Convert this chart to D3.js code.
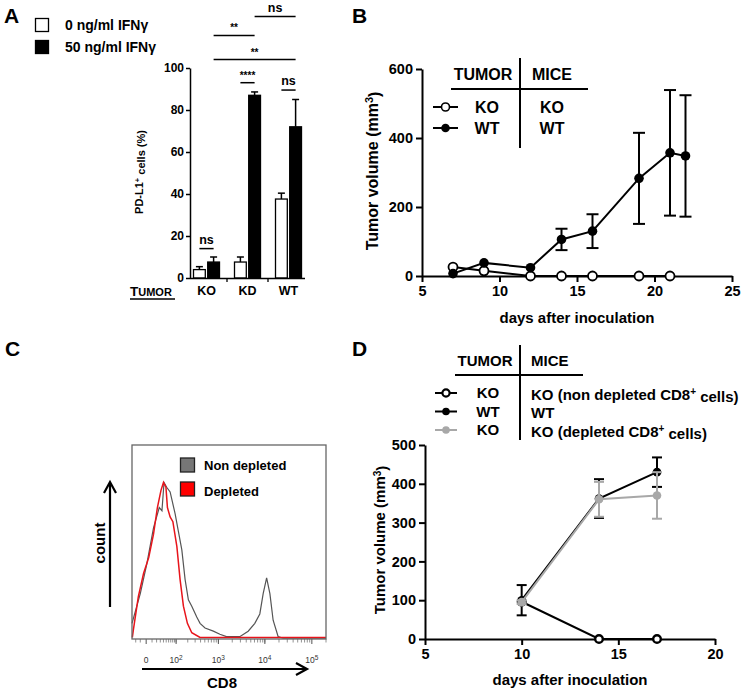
<!DOCTYPE html>
<html>
<head>
<meta charset="utf-8">
<title>PD-L1 tumor figure</title>
<script src="https://d3js.org/d3.v7.min.js"></script>
<style>
  body { margin: 0; background: #fff; }
  svg { font-family: "Liberation Sans", Arial, Helvetica, sans-serif; font-weight: bold; }
</style>
</head>
<body>
<svg width="745" height="693"></svg>
<script>
// ---------- data ----------
// A: PD-L1+ cells (%)
var groupsA = ["KO", "KD", "WT"];
var seriesA = ["0 ng/ml IFNγ", "50 ng/ml IFNγ"];
var meanA0 = [4, 7.6, 37.6];
var errA0 = [1.4, 2.4, 2.8];
var meanA50 = [7.6, 87, 72];
var errA50 = [2.4, 1.6, 13];
var ticksA = [0, 20, 40, 60, 80, 100];
// significance bars: [group index, series index] -> [group index, series index]
var sigFrom = [[0, 0], [1, 0], [2, 0], [0, 1], [0, 1], [1, 1]];
var sigTo = [[0, 1], [1, 1], [2, 1], [1, 1], [2, 1], [2, 1]];
var sigY = [14, 93, 89.5, 115.5, 104, 124.5];
var sigLabel = ["ns", "****", "ns", "**", "**", "ns"];

// B: tumor growth, KO vs WT
var daysB_KO = [7, 9, 12, 14, 16, 19, 21];
var volB_KO = [26, 15, 0, 0, 0, 0, 0];
var daysB_WT = [7, 9, 12, 14, 16, 19, 21, 22];
var volB_WT = [7, 38, 24, 106, 130, 283, 357, 348];
var errB_WT = [0, 0, 0, 31, 49, 132, 182, 176];
var ticksBx = [5, 10, 15, 20, 25];
var ticksBy = [0, 200, 400, 600];

// C: CD8 histogram (intensity, % of max count)
var cd8Grey = [[-30, 10], [-10, 29], [1, 48], [13, 71], [27, 84], [35, 82], [42, 100], [52, 97], [67, 94],
  [94, 80], [115, 69], [142, 57], [172, 38], [207, 25], [250, 21], [327, 14], [390, 10], [506, 7],
  [774, 5], [1080, 3], [1500, 1.5], [2900, 1.5], [4400, 5], [6100, 10], [7800, 16], [9200, 29],
  [10900, 39], [12800, 29], [15000, 12], [19200, 1.5], [24500, 0.5], [200000, 0.5]];
var cd8Red = [[-29, 1], [-26, 6], [-14, 27], [-4, 42], [4, 52], [13, 67], [22, 84], [32, 95], [40, 100],
  [49, 97], [55, 84], [67, 78], [81, 75], [105, 59], [128, 38], [156, 21], [196, 10], [250, 4],
  [390, 1], [200000, 1]];
var ticksC = [0, 100, 1000, 10000, 100000];
var ticksCexp = ["", "2", "3", "4", "5"];
var legendC = ["Non depleted", "Depleted"];

// D: tumor growth with CD8 depletion
var daysD = [10, 14, 17];
var volD_KO = [96, 0, 0];
var errD_KO = [0, 0, 0];
var volD_WT = [100, 362, 430];
var errD_WT = [39, 50, 38];
var volD_KOdep = [95, 360, 370];
var errD_KOdep = [5, 45, 60];
var ticksDx = [5, 10, 15, 20];
var ticksDy = [0, 100, 200, 300, 400, 500];

var svg = d3.select("svg");
svg.append("rect").attr("width", 745).attr("height", 693).attr("fill", "#fff");

// helper: text with a superscript part
function supText(sel, before, sup, after, supSize) {
  sel.append("tspan").text(before);
  sel.append("tspan").attr("dy", "-0.45em").attr("font-size", supSize).text(sup);
  if (after) sel.append("tspan").attr("dy", "0.45em").text(after);
}

function styleAxis(g, w) {
  g.select(".domain").attr("stroke", "#000").attr("stroke-width", w);
  g.selectAll(".tick line").attr("stroke", "#000").attr("stroke-width", w);
  g.selectAll("text").attr("fill", "#000").attr("font-family", null).attr("font-weight", "bold");
}

// panel letters
[["A", 4, 23], ["B", 352, 23], ["C", 5, 356], ["D", 352, 356]].forEach(function(l) {
  svg.append("text").attr("x", l[1]).attr("y", l[2]).attr("font-size", 21).text(l[0]);
});

// ================= Panel A =================
var yA = d3.scaleLinear().domain([0, 100]).range([278, 68]);
var xA = d3.scaleBand().domain(groupsA).range([186, 309]);
var xA1 = d3.scaleBand().domain([0, 1]).range([-13, 13]).paddingInner(0.17);
function cxA(gi, si) { return xA(groupsA[gi]) + xA.bandwidth() / 2 + xA1(si) + xA1.bandwidth() / 2; }

var gA = svg.append("g");
var barsA = [meanA0, meanA50];
var errsA = [errA0, errA50];
[0, 1].forEach(function(si) {
  groupsA.forEach(function(g, gi) {
    var x0 = xA(g) + xA.bandwidth() / 2 + xA1(si);
    var v = barsA[si][gi], e = errsA[si][gi];
    var cx = x0 + xA1.bandwidth() / 2;
    gA.append("line").attr("x1", cx).attr("x2", cx).attr("y1", yA(v)).attr("y2", yA(v + e))
      .attr("stroke", "#000").attr("stroke-width", 1.5);
    gA.append("line").attr("x1", cx - 3.5).attr("x2", cx + 3.5).attr("y1", yA(v + e)).attr("y2", yA(v + e))
      .attr("stroke", "#000").attr("stroke-width", 1.5);
    gA.append("rect").attr("x", x0).attr("y", yA(v)).attr("width", xA1.bandwidth())
      .attr("height", yA(0) - yA(v))
      .attr("fill", si === 0 ? "#fff" : "#000").attr("stroke", "#000").attr("stroke-width", 1.3);
  });
});

var axA = gA.append("g").attr("transform", "translate(190,0)")
  .call(d3.axisLeft(yA).tickValues(ticksA).tickSize(4).tickSizeOuter(0).tickPadding(2));
styleAxis(axA, 1.5);
axA.selectAll("text").attr("font-size", 12);

// x axis line with category separators
gA.append("line").attr("x1", 190).attr("x2", 305).attr("y1", 278.5).attr("y2", 278.5)
  .attr("stroke", "#000").attr("stroke-width", 1.5);
[1, 2].forEach(function(i) {
  var x = xA(groupsA[i]);
  gA.append("line").attr("x1", x).attr("x2", x).attr("y1", 278).attr("y2", 282)
    .attr("stroke", "#000").attr("stroke-width", 1.3);
});
groupsA.forEach(function(g) {
  gA.append("text").attr("x", xA(g) + xA.bandwidth() / 2).attr("y", 295)
    .attr("text-anchor", "middle").attr("font-size", 12.5).text(g);
});
// small-caps TUMOR label
var tum = gA.append("text").attr("x", 130).attr("y", 296).attr("font-size", 13.5);
tum.append("tspan").text("T");
tum.append("tspan").attr("font-size", 11).text("UMOR");
gA.append("line").attr("x1", 130).attr("x2", 175).attr("y1", 299).attr("y2", 299)
  .attr("stroke", "#000").attr("stroke-width", 1.3);

// y label
var ylA = gA.append("text").attr("transform", "translate(143,172) rotate(-90)")
  .attr("text-anchor", "middle").attr("font-size", 11);
supText(ylA, "PD-L1", "+", " cells (%)", 7.5);

// significance lines
sigLabel.forEach(function(lab, i) {
  var x1 = cxA(sigFrom[i][0], sigFrom[i][1]), x2 = cxA(sigTo[i][0], sigTo[i][1]);
  var y = yA(sigY[i]);
  gA.append("line").attr("x1", x1).attr("x2", x2).attr("y1", y).attr("y2", y)
    .attr("stroke", "#000").attr("stroke-width", 1.5);
  gA.append("text").attr("x", (x1 + x2) / 2).attr("y", lab === "ns" ? y - 5 : y - 4)
    .attr("text-anchor", "middle").attr("font-size", lab === "ns" ? 12.5 : 10).text(lab);
});

// legend A
seriesA.forEach(function(s, i) {
  var y = 18 + i * 22;
  gA.append("rect").attr("x", 35.5).attr("y", y + 0.5).attr("width", 13).attr("height", 13)
    .attr("fill", i === 0 ? "#fff" : "#000").attr("stroke", "#000").attr("stroke-width", 1.3);
  gA.append("text").attr("x", 65).attr("y", y + 12).attr("font-size", 14).text(s);
});

// ================= Panel B =================
var xB = d3.scaleLinear().domain([5, 25]).range([422, 732]);
var yB = d3.scaleLinear().domain([0, 600]).range([276, 69]);
var gB = svg.append("g");
var lineB = d3.line().x(function(d) { return xB(d[0]); }).y(function(d) { return yB(d[1]); });

var axBx = gB.append("g").attr("transform", "translate(0,276)")
  .call(d3.axisBottom(xB).tickValues(ticksBx).tickSize(6).tickSizeOuter(0).tickPadding(4));
styleAxis(axBx, 2);
axBx.selectAll("text").attr("font-size", 14.5);
var axBy = gB.append("g").attr("transform", "translate(422,0)")
  .call(d3.axisLeft(yB).tickValues(ticksBy).tickSize(6).tickSizeOuter(0).tickPadding(3));
styleAxis(axBy, 2);
axBy.selectAll("text").attr("font-size", 14.5);

gB.append("text").attr("x", 577).attr("y", 323).attr("text-anchor", "middle").attr("font-size", 15)
  .text("days after inoculation");
var ylB = gB.append("text").attr("transform", "translate(378,171) rotate(-90)")
  .attr("text-anchor", "middle").attr("font-size", 16);
supText(ylB, "Tumor volume (mm", "3", ")", 11);

var wtB = daysB_WT.map(function(d, i) { return [d, volB_WT[i], errB_WT[i]]; });
var koB = daysB_KO.map(function(d, i) { return [d, volB_KO[i]]; });

gB.append("path").datum(wtB).attr("d", lineB).attr("fill", "none").attr("stroke", "#000").attr("stroke-width", 2);
gB.append("path").datum(koB).attr("d", lineB).attr("fill", "none").attr("stroke", "#000").attr("stroke-width", 2);
wtB.forEach(function(d) {
  if (d[2] > 0) {
    var x = xB(d[0]);
    gB.append("line").attr("x1", x).attr("x2", x).attr("y1", yB(d[1] - d[2])).attr("y2", yB(d[1] + d[2]))
      .attr("stroke", "#000").attr("stroke-width", 2);
    [d[1] - d[2], d[1] + d[2]].forEach(function(v) {
      gB.append("line").attr("x1", x - 6).attr("x2", x + 6).attr("y1", yB(v)).attr("y2", yB(v))
        .attr("stroke", "#000").attr("stroke-width", 2);
    });
  }
});
gB.selectAll("circle.ko").data(koB).enter().append("circle")
  .attr("cx", function(d) { return xB(d[0]); }).attr("cy", function(d) { return yB(d[1]); })
  .attr("r", 4.5).attr("fill", "#fff").attr("stroke", "#000").attr("stroke-width", 1.8);
gB.selectAll("circle.wt").data(wtB).enter().append("circle")
  .attr("cx", function(d) { return xB(d[0]); }).attr("cy", function(d) { return yB(d[1]); })
  .attr("r", 4.8).attr("fill", "#000");

// legend table B
gB.append("text").attr("x", 483).attr("y", 80).attr("text-anchor", "middle").attr("font-size", 16).text("TUMOR");
gB.append("text").attr("x", 552).attr("y", 80).attr("text-anchor", "middle").attr("font-size", 16).text("MICE");
gB.append("line").attr("x1", 451).attr("x2", 588).attr("y1", 89).attr("y2", 89).attr("stroke", "#000").attr("stroke-width", 2);
gB.append("line").attr("x1", 520).attr("x2", 520).attr("y1", 58).attr("y2", 148).attr("stroke", "#000").attr("stroke-width", 2);
[["KO", "KO", true], ["WT", "WT", false]].forEach(function(r, i) {
  var y = 107 + i * 21;
  gB.append("line").attr("x1", 433).attr("x2", 458).attr("y1", y).attr("y2", y).attr("stroke", "#000").attr("stroke-width", 2);
  gB.append("circle").attr("cx", 445.5).attr("cy", y).attr("r", r[2] ? 4 : 4.3)
    .attr("fill", r[2] ? "#fff" : "#000").attr("stroke", "#000").attr("stroke-width", r[2] ? 1.6 : 0);
  gB.append("text").attr("x", 487).attr("y", y + 6).attr("text-anchor", "middle").attr("font-size", 16).text(r[0]);
  gB.append("text").attr("x", 552).attr("y", y + 6).attr("text-anchor", "middle").attr("font-size", 16).text(r[1]);
});

// ================= Panel C =================
var xC = d3.scaleSymlog().constant(30).domain([-30, 200000]).range([132, 326]);
var yC = d3.scaleLinear().domain([0, 124]).range([639, 445]);
var gC = svg.append("g");
var lineC = d3.line().x(function(d) { return xC(d[0]); }).y(function(d) { return yC(d[1]); });

// minor/major ticks under the box
var minorC = [-20, -10];
[10, 100, 1000, 10000].forEach(function(dec) {
  for (var k = 1; k <= 9; k++) minorC.push(k * dec);
});
minorC.push(200000);
minorC.forEach(function(v) {
  gC.append("line").attr("x1", xC(v)).attr("x2", xC(v)).attr("y1", 639).attr("y2", 642.5)
    .attr("stroke", "#777").attr("stroke-width", 0.8);
});
ticksC.forEach(function(v, i) {
  gC.append("line").attr("x1", xC(v)).attr("x2", xC(v)).attr("y1", 639).attr("y2", 644)
    .attr("stroke", "#555").attr("stroke-width", 1);
  var t = gC.append("text").attr("x", xC(v)).attr("y", 663).attr("text-anchor", "middle")
    .attr("font-size", 8.5).attr("font-weight", "normal").attr("fill", "#333");
  if (v === 0) t.text("0");
  else supText(t, "10", ticksCexp[i], null, 6.5);
});

gC.append("path").datum(cd8Grey).attr("d", lineC).attr("fill", "none").attr("stroke", "#555").attr("stroke-width", 1.2);
gC.append("path").datum(cd8Red).attr("d", lineC).attr("fill", "none").attr("stroke", "#e8141b").attr("stroke-width", 1.5);
gC.append("rect").attr("x", 132).attr("y", 445).attr("width", 194).attr("height", 194)
  .attr("fill", "none").attr("stroke", "#666").attr("stroke-width", 1.3);

// legend C
legendC.forEach(function(s, i) {
  var y = 458 + i * 24;
  gC.append("rect").attr("x", 180.5).attr("y", y).attr("width", 14).attr("height", 14)
    .attr("fill", i === 0 ? "#777" : "#f00").attr("stroke", "#222").attr("stroke-width", 1.3);
  gC.append("text").attr("x", 204).attr("y", y + 11.5 + i * 2).attr("font-size", 13).text(s);
});

// count / CD8 arrows
gC.append("line").attr("x1", 110).attr("x2", 110).attr("y1", 607).attr("y2", 483).attr("stroke", "#000").attr("stroke-width", 2.2);
gC.append("path").attr("d", "M104,493 L110,482 L116,493").attr("fill", "none").attr("stroke", "#000").attr("stroke-width", 2.2);
gC.append("text").attr("transform", "translate(105,543) rotate(-90)").attr("text-anchor", "middle")
  .attr("font-size", 15).text("count");
gC.append("line").attr("x1", 142).attr("x2", 306).attr("y1", 669).attr("y2", 669).attr("stroke", "#000").attr("stroke-width", 2.2);
gC.append("path").attr("d", "M296,663 L307,669 L296,675").attr("fill", "none").attr("stroke", "#000").attr("stroke-width", 2.2);
gC.append("text").attr("x", 222).attr("y", 688).attr("text-anchor", "middle").attr("font-size", 15).text("CD8");

// ================= Panel D =================
var xD = d3.scaleLinear().domain([5, 20]).range([425, 715]);
var yD = d3.scaleLinear().domain([0, 500]).range([639, 445]);
var gD = svg.append("g");
var lineD = d3.line().x(function(d) { return xD(d[0]); }).y(function(d) { return yD(d[1]); });

var axDx = gD.append("g").attr("transform", "translate(0,639)")
  .call(d3.axisBottom(xD).tickValues(ticksDx).tickSize(6).tickSizeOuter(0).tickPadding(4));
styleAxis(axDx, 2);
axDx.selectAll("text").attr("font-size", 14.5);
var axDy = gD.append("g").attr("transform", "translate(425,0)")
  .call(d3.axisLeft(yD).tickValues(ticksDy).tickSize(6).tickSizeOuter(0).tickPadding(3));
styleAxis(axDy, 2);
axDy.selectAll("text").attr("font-size", 14.5);

gD.append("text").attr("x", 570).attr("y", 685).attr("text-anchor", "middle").attr("font-size", 15)
  .text("days after inoculation");
var ylD = gD.append("text").attr("transform", "translate(385,540) rotate(-90)")
  .attr("text-anchor", "middle").attr("font-size", 15);
supText(ylD, "Tumor volume (mm", "3", ")", 10);

function seriesD(vals, errs, color, open) {
  var pts = daysD.map(function(d, i) { return [d, vals[i], errs[i]]; });
  pts.forEach(function(d) {
    if (d[2] > 0) {
      var x = xD(d[0]);
      gD.append("line").attr("x1", x).attr("x2", x).attr("y1", yD(d[1] - d[2])).attr("y2", yD(d[1] + d[2]))
        .attr("stroke", color).attr("stroke-width", 2);
      [d[1] - d[2], d[1] + d[2]].forEach(function(v) {
        gD.append("line").attr("x1", x - 5).attr("x2", x + 5).attr("y1", yD(v)).attr("y2", yD(v))
          .attr("stroke", color).attr("stroke-width", 2);
      });
    }
  });
  gD.append("path").datum(pts).attr("d", lineD).attr("fill", "none").attr("stroke", color).attr("stroke-width", 2);
  pts.forEach(function(d) {
    gD.append("circle").attr("cx", xD(d[0])).attr("cy", yD(d[1])).attr("r", open ? 3.8 : 4.3)
      .attr("fill", open ? "#fff" : color).attr("stroke", color).attr("stroke-width", open ? 2.4 : 0);
  });
}
seriesD(volD_KO, errD_KO, "#000", true);
seriesD(volD_WT, errD_WT, "#000", false);
seriesD(volD_KOdep, errD_KOdep, "#a8a8a8", false);

// legend table D
gD.append("text").attr("x", 485).attr("y", 366).attr("text-anchor", "middle").attr("font-size", 15).text("TUMOR");
gD.append("text").attr("x", 531).attr("y", 366).attr("font-size", 15).text("MICE");
gD.append("line").attr("x1", 455).attr("x2", 583).attr("y1", 375).attr("y2", 375).attr("stroke", "#000").attr("stroke-width", 2);
gD.append("line").attr("x1", 520).attr("x2", 520).attr("y1", 345).attr("y2", 440).attr("stroke", "#000").attr("stroke-width", 2);
var rowsD = [["KO", "#000", true, "KO (non depleted CD8", "+", " cells)"],
             ["WT", "#000", false, "WT", null, null],
             ["KO", "#a8a8a8", false, "KO (depleted CD8", "+", " cells)"]];
rowsD.forEach(function(r, i) {
  var y = 393 + i * 18.5;
  gD.append("line").attr("x1", 435).attr("x2", 457).attr("y1", y).attr("y2", y).attr("stroke", r[1]).attr("stroke-width", 2);
  gD.append("circle").attr("cx", 446).attr("cy", y).attr("r", r[2] ? 3.6 : 3.8)
    .attr("fill", r[2] ? "#fff" : r[1]).attr("stroke", r[1]).attr("stroke-width", r[2] ? 2.2 : 0);
  gD.append("text").attr("x", 488).attr("y", y + 5).attr("text-anchor", "middle").attr("font-size", 15).text(r[0]);
  var t = gD.append("text").attr("x", 531).attr("y", y + 6.5).attr("font-size", 15);
  if (r[4]) supText(t, r[3], r[4], r[5], 10);
  else t.text(r[3]);
});
</script>
</body>
</html>
